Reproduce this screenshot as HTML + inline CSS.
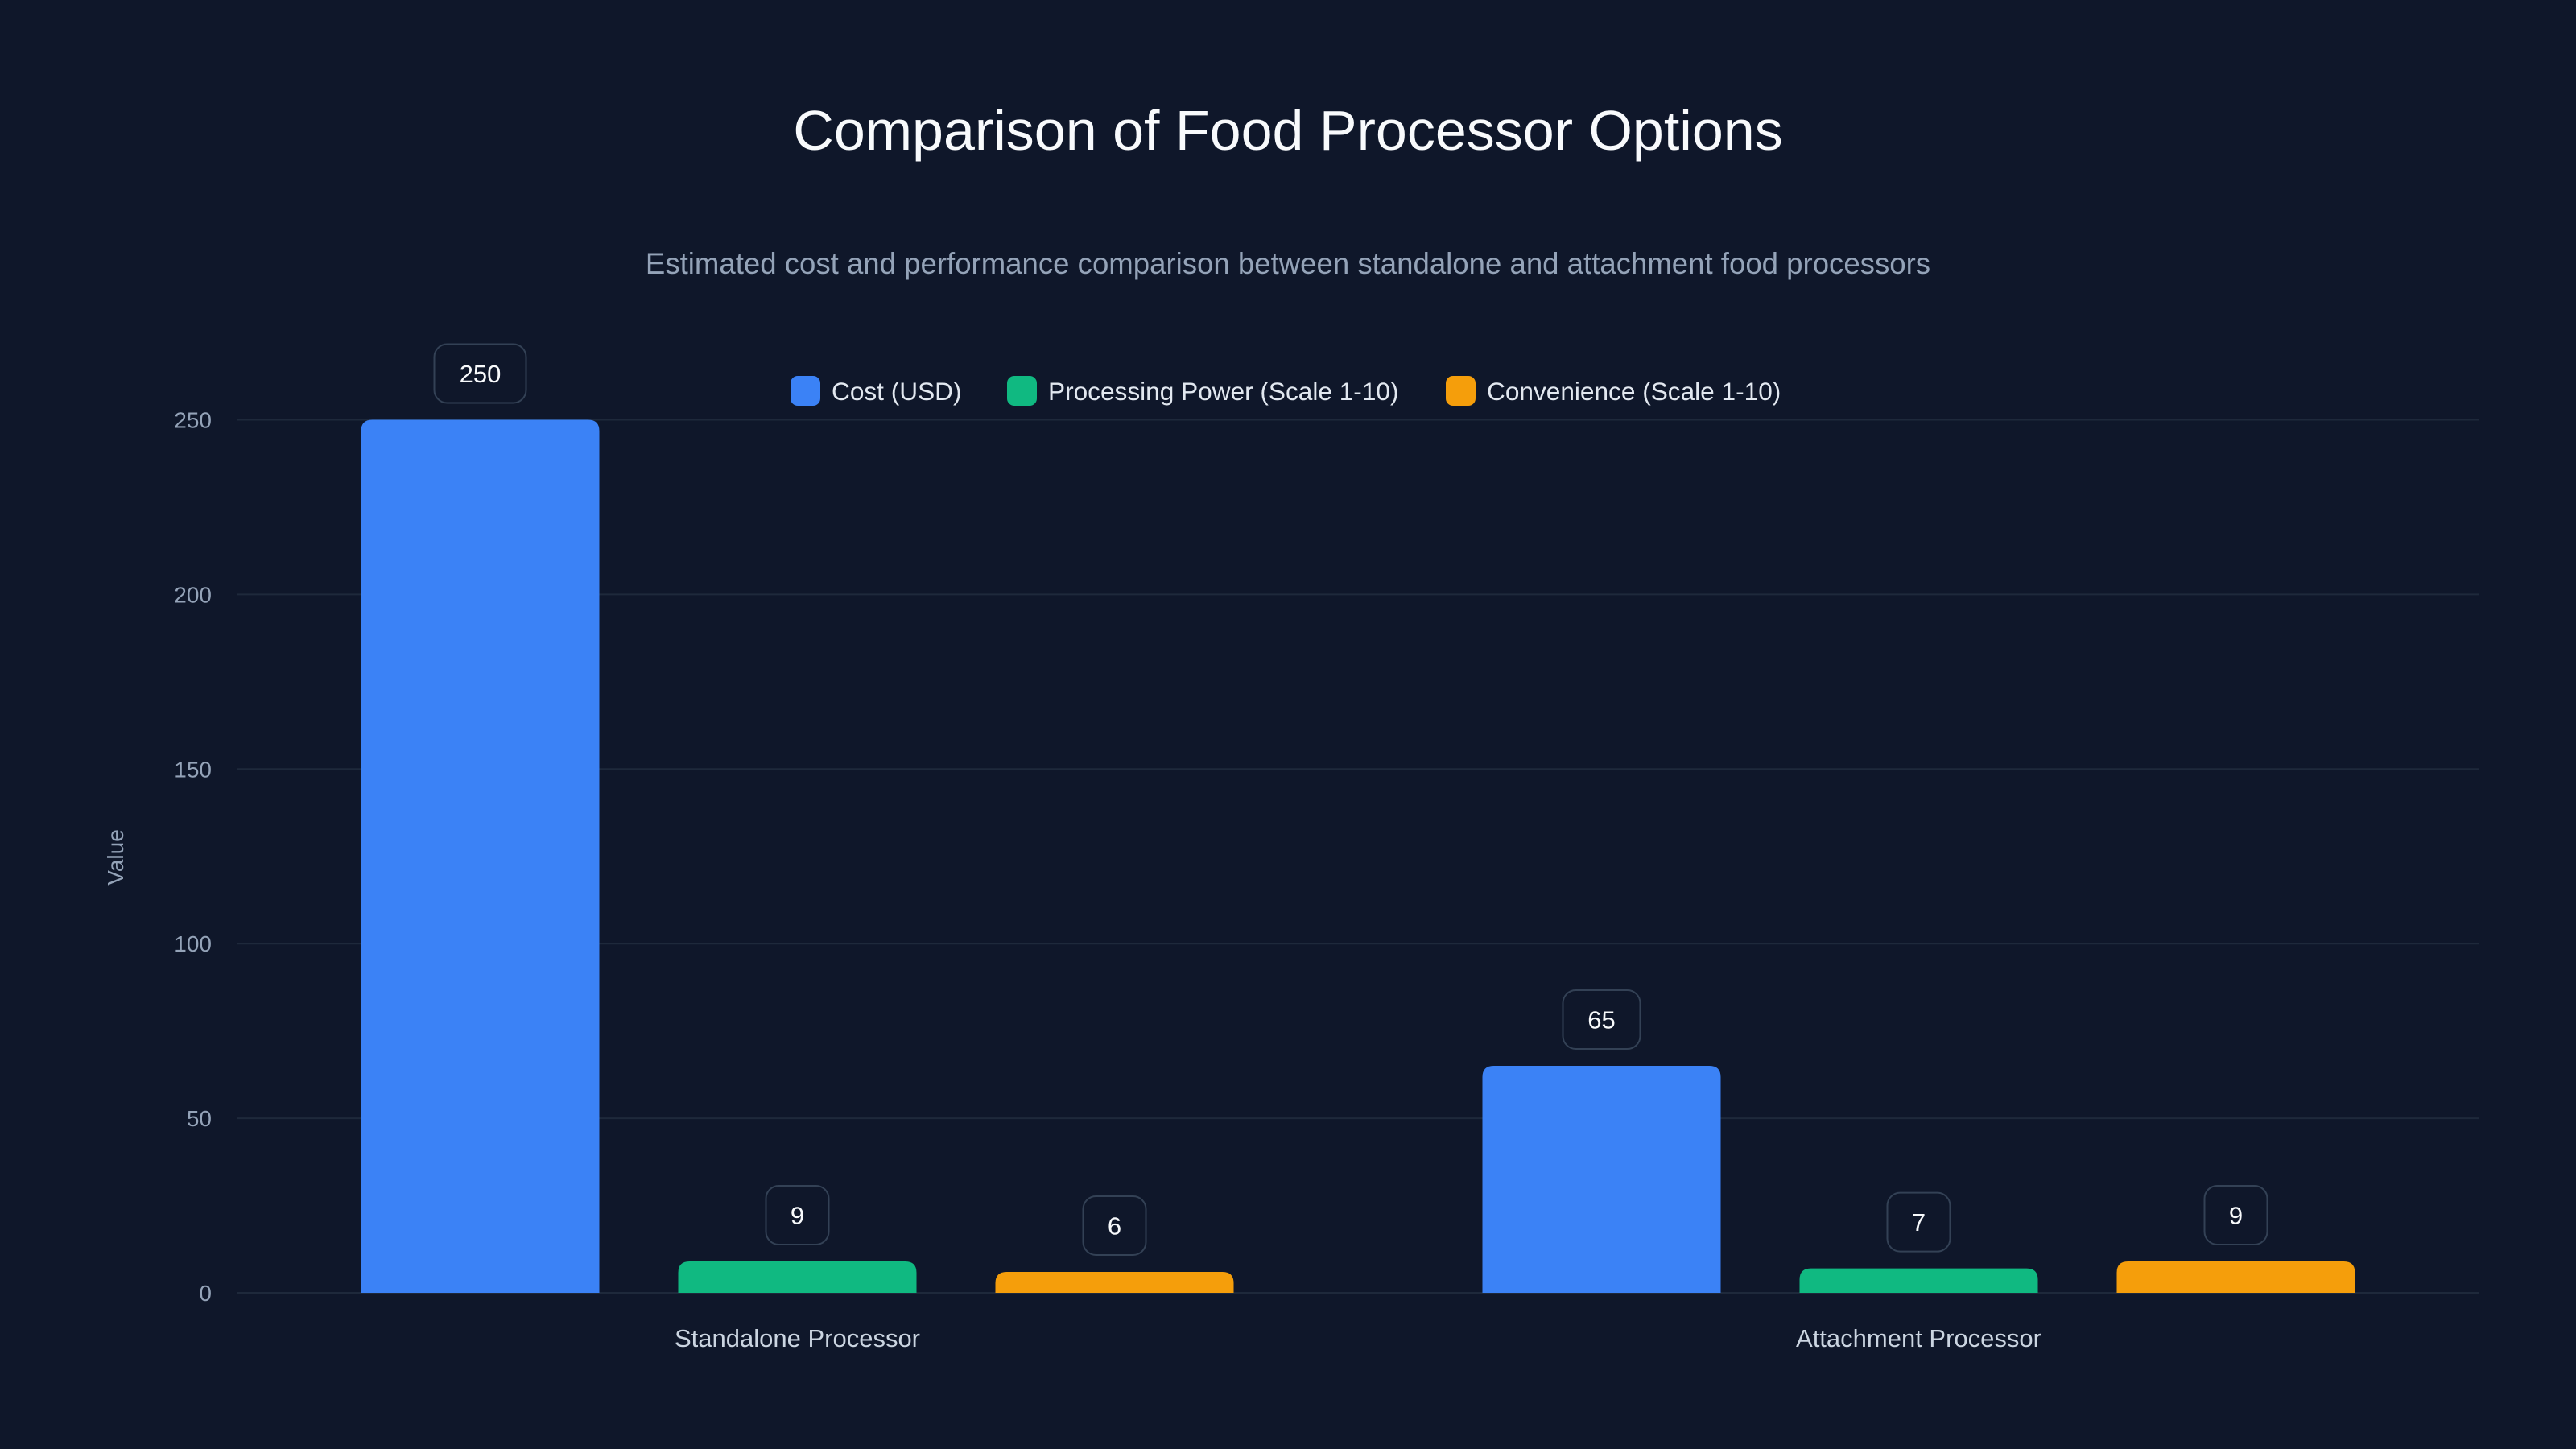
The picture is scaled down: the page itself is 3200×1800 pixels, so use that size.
<!DOCTYPE html>
<html><head><meta charset="utf-8"><style>
html,body{margin:0;padding:0;background:#0f172a;}
svg{display:block;font-family:"Liberation Sans",sans-serif;}
</style></head><body>
<svg id="chart" width="3200" height="1800" viewBox="0 0 3200 1800">
<rect width="3200" height="1800" fill="#0f172a"/>
<text x="1600" y="186" text-anchor="middle" fill="#f8fafc" font-size="70">Comparison of Food Processor Options</text>
<text x="1600" y="340" text-anchor="middle" fill="#94a3b8" font-size="36.6">Estimated cost and performance comparison between standalone and attachment food processors</text>
<text transform="translate(153,1065) rotate(-90)" text-anchor="middle" fill="#94a3b8" font-size="28">Value</text>
<g id="grid"></g><g id="bars"></g><g id="legend"></g>
</svg>
<script>
const categories = ["Standalone Processor", "Attachment Processor"];
const seriesNames = ["Cost (USD)", "Processing Power (Scale 1-10)", "Convenience (Scale 1-10)"];
const costValues = [250, 65];
const powerValues = [9, 7];
const convenienceValues = [6, 9];
const yTicks = [0, 50, 100, 150, 200, 250];

const colors = ["#3b82f6", "#10b981", "#f59e0b"];
const NS = "http://www.w3.org/2000/svg";
const X0 = 294, X1 = 3080, Y0 = 1606, YTOP = 521.5, YMAX = 250;
const y = v => Y0 - (v / YMAX) * (Y0 - YTOP);
const groupW = (X1 - X0) / categories.length;
const barW = 296, barStep = 394;
const xCenter = (ci, si) => X0 + groupW * (ci + 0.5) + (si - 1) * barStep;
function mk(tag, attrs, parent) { const e = document.createElementNS(NS, tag); for (const k in attrs) e.setAttribute(k, attrs[k]); parent.appendChild(e); return e; }

const grid = document.getElementById('grid');
yTicks.forEach(t => {
  const l = mk('line', {x1: X0, x2: X1, y1: y(t), y2: y(t), stroke: '#1e293b', 'stroke-width': 2}, grid);
  
  
  const tx = mk('text', {x: 263, y: y(t) + 10, 'text-anchor': 'end', fill: '#94a3b8', 'font-size': 28}, grid);
  tx.textContent = t;
  
  
});
categories.forEach((c, ci) => {
  const tx = mk('text', {x: X0 + groupW * (ci + 0.5), y: 1673, 'text-anchor': 'middle', fill: '#cbd5e1', 'font-size': 31}, grid);
  tx.textContent = c;
  
  
});

const bars = document.getElementById('bars');
const series = [costValues, powerValues, convenienceValues];
series.forEach((vals, si) => {
  vals.forEach((v, ci) => {
    const cx = xCenter(ci, si), top = y(v), h = Y0 - top, r = Math.min(14, h);
    const p = mk('path', {d: `M${cx-barW/2},${Y0} V${top+r} Q${cx-barW/2},${top} ${cx-barW/2+r},${top} H${cx+barW/2-r} Q${cx+barW/2},${top} ${cx+barW/2},${top+r} V${Y0} Z`, fill: colors[si]}, bars);
    
    
    const label = String(v), bw = 60 + label.length * 18, bh = 73;
    const b = mk('rect', {x: cx - bw/2, y: top - 21 - bh, width: bw, height: bh, rx: 16, fill: '#0f172a', stroke: '#334155', 'stroke-width': 2}, bars);
    
    
    const t = mk('text', {x: cx, y: top - 21 - bh/2 + 11, 'text-anchor': 'middle', fill: '#f8fafc', 'font-size': 31}, bars);
    t.textContent = label;
    
    
  });
});

const legend = document.getElementById('legend');
const legendX = [982, 1251, 1796];
seriesNames.forEach((n, i) => {
  const g = mk('g', {}, legend);
  
  
  mk('rect', {x: legendX[i], y: 467, width: 37, height: 37, rx: 9, fill: colors[i]}, g);
  const t = mk('text', {x: legendX[i] + 51, y: 497, fill: '#e2e8f0', 'font-size': 31.6}, g);
  t.textContent = n;
});
</script>
</body></html>
